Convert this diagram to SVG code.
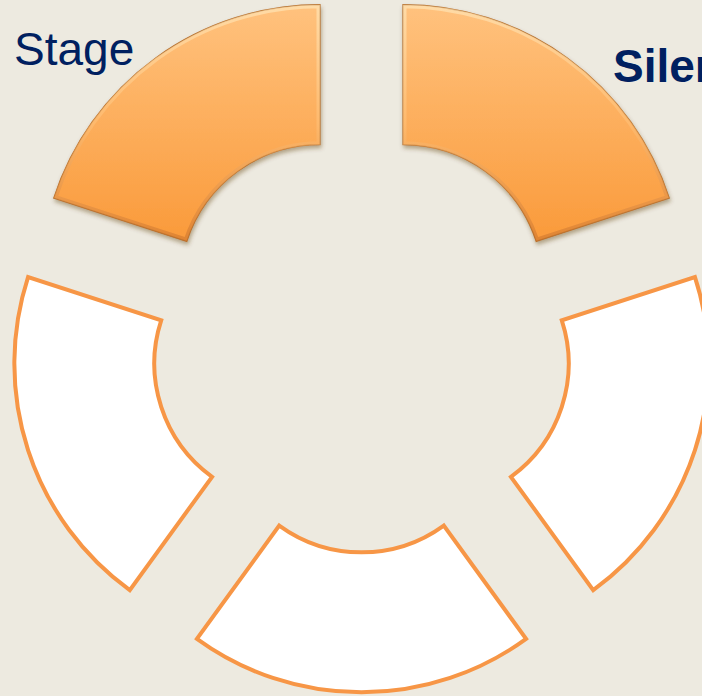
<svg xmlns="http://www.w3.org/2000/svg" width="702" height="696" viewBox="0 0 702 696">
<defs>
<style>
.plain{fill:#FFFFFF;stroke:#F79646;stroke-width:4;stroke-linejoin:miter}
.hot{fill:url(#og);stroke:#B8722F;stroke-width:1.2;filter:url(#sh)}
.bevel{fill:none;stroke:url(#bv);stroke-width:7;opacity:0.55}
.lbl{font-family:"Liberation Sans",Arial,sans-serif;font-size:46px;fill:#002060}
</style>
<linearGradient id="og" gradientUnits="userSpaceOnUse" x1="0" y1="5" x2="0" y2="242">
<stop offset="0" stop-color="#FFC27E"/>
<stop offset="1" stop-color="#FA9A3A"/>
</linearGradient>
<linearGradient id="bv" gradientUnits="userSpaceOnUse" x1="0" y1="5" x2="0" y2="242">
<stop offset="0" stop-color="#FFF0C8"/>
<stop offset="0.5" stop-color="#FFC27A"/>
<stop offset="1" stop-color="#C8702A"/>
</linearGradient>
<filter id="sh" x="-10%" y="-10%" width="120%" height="125%">
<feDropShadow dx="1" dy="3" stdDeviation="2" flood-color="#5A3A10" flood-opacity="0.4"/>
</filter>
<clipPath id="clipA"><path d="M320,4.65 A280,280 0 0 0 53.70,198.12 L186.85,241.39 A140,140 0 0 1 320,144.65 Z"/></clipPath>
<clipPath id="clipB"><path d="M403,4.65 A280,280 0 0 1 669.30,198.12 L536.15,241.39 A140,140 0 0 0 403,144.65 Z"/></clipPath>
</defs>
<rect x="0" y="0" width="702" height="696" fill="#EDEAE0"/>
<g id="seg-stage">
<path class="hot" d="M320,4.65 A280,280 0 0 0 53.70,198.12 L186.85,241.39 A140,140 0 0 1 320,144.65 Z"/>
<path class="bevel" clip-path="url(#clipA)" d="M320,4.65 A280,280 0 0 0 53.70,198.12 L186.85,241.39 A140,140 0 0 1 320,144.65 Z"/>
</g>
<g id="seg-silent">
<path class="hot" d="M403,4.65 A280,280 0 0 1 669.30,198.12 L536.15,241.39 A140,140 0 0 0 403,144.65 Z"/>
<path class="bevel" clip-path="url(#clipB)" d="M403,4.65 A280,280 0 0 1 669.30,198.12 L536.15,241.39 A140,140 0 0 0 403,144.65 Z"/>
</g>
<g id="seg-left">
<path class="plain" d="M28.05,277.04 A280,280 0 0 0 129.77,590.10 L212.06,476.83 A140,140 0 0 1 161.20,320.31 Z"/>
</g>
<g id="seg-bottom">
<path class="plain" d="M196.92,638.88 A280,280 0 0 0 526.08,638.88 L443.79,525.61 A140,140 0 0 1 279.21,525.61 Z"/>
</g>
<g id="seg-right">
<path class="plain" d="M593.23,590.10 A280,280 0 0 0 694.95,277.04 L561.80,320.31 A140,140 0 0 1 510.94,476.83 Z"/>
</g>
<g id="connectors"></g>
<g id="label-stage"><text class="lbl" x="14" y="65">Stage</text></g>
<g id="label-silent"><text class="lbl" x="613" y="82" font-weight="bold">Silen</text></g>
</svg>
